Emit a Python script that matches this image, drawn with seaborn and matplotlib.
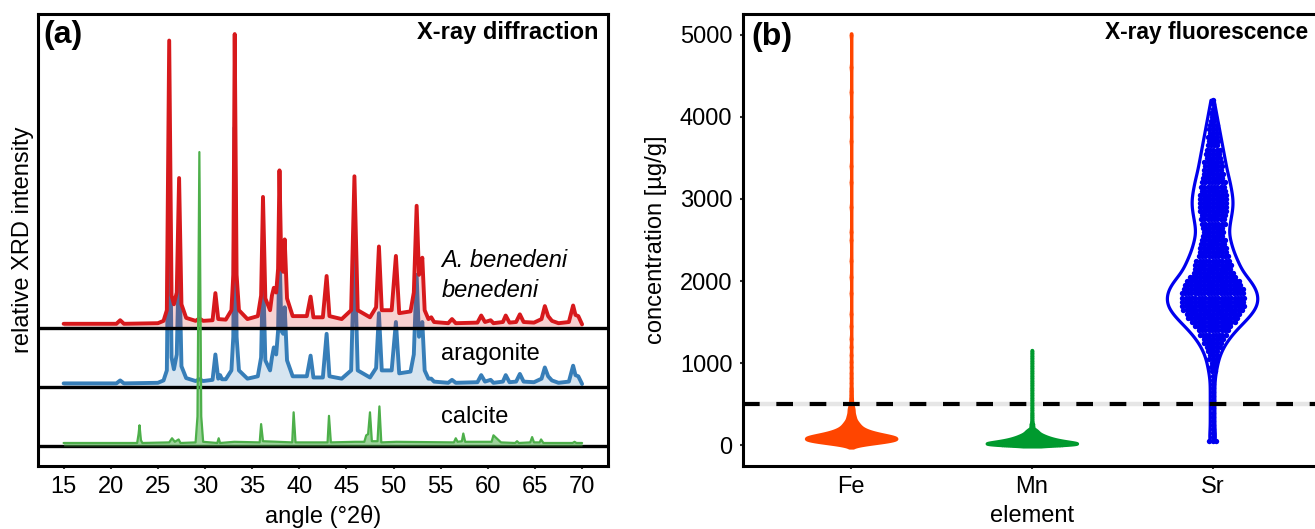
import numpy as np
import pandas as pd
import matplotlib
matplotlib.use("Agg")
import matplotlib.pyplot as plt
import seaborn as sns

# ---------------- panel (a): XRD patterns (angle in deg 2theta, relative intensity) ----------------
sample_angle = [15.0, 20.6, 21.0, 21.4, 25.0, 25.6, 25.95, 26.2, 26.45, 26.7, 27.0, 27.25, 27.5, 28.0, 29.0,
                29.4, 29.8, 30.8, 31.1, 31.4, 32.2, 32.8, 33.0, 33.15, 33.35, 33.6, 34.5, 35.6, 35.95, 36.15,
                36.4, 36.9, 37.1, 37.3, 37.55, 37.75, 37.9, 38.1, 38.3, 38.45, 38.7, 39.3, 40.8, 41.2, 41.5,
                42.5, 42.9, 43.2, 44.5, 45.5, 45.85, 46.2, 47.5, 48.15, 48.45, 48.75, 49.8, 50.25, 50.6, 51.8,
                52.15, 52.45, 52.7, 52.85, 53.05, 53.3, 53.7, 54.0, 54.3, 55.8, 56.2, 56.6, 58.9, 59.3, 59.7,
                60.3, 60.6, 61.6, 61.9, 62.3, 63.0, 63.4, 63.8, 64.9, 65.7, 66.05, 66.4, 66.8, 67.5, 68.6,
                69.05, 69.3, 69.6, 70.0]
sample_int = [0.07, 0.07, 0.13, 0.07, 0.08, 0.12, 0.30, 4.87, 0.55, 0.40, 0.60, 2.54, 0.40, 0.17, 0.12,
              0.16, 0.12, 0.13, 0.59, 0.15, 0.14, 0.30, 0.90, 4.98, 0.90, 0.30, 0.15, 0.20, 0.55, 2.22,
              0.50, 0.30, 0.55, 0.68, 0.60, 1.00, 2.67, 1.00, 0.95, 1.50, 0.50, 0.20, 0.20, 0.53, 0.18,
              0.18, 0.88, 0.20, 0.15, 0.30, 2.57, 0.30, 0.18, 0.35, 1.38, 0.30, 0.30, 1.22, 0.25, 0.28,
              0.60, 2.07, 0.90, 0.95, 1.19, 0.30, 0.15, 0.18, 0.10, 0.08, 0.15, 0.08, 0.09, 0.21, 0.10,
              0.13, 0.08, 0.10, 0.21, 0.09, 0.10, 0.23, 0.10, 0.09, 0.15, 0.37, 0.20, 0.12, 0.08, 0.10,
              0.38, 0.22, 0.20, 0.06]

aragonite_angle = [15.0, 20.6, 21.0, 21.4, 25.0, 25.6, 25.95, 26.2, 26.45, 26.7, 27.0, 27.25, 27.5, 28.0, 29.0,
                   29.4, 29.8, 30.8, 31.1, 31.4, 31.6, 31.8, 32.2, 32.8, 33.0, 33.15, 33.35, 33.6, 34.5, 35.6,
                   35.95, 36.15, 36.4, 36.9, 37.1, 37.3, 37.55, 37.75, 37.9, 38.1, 38.3, 38.45, 38.7, 39.3,
                   40.8, 41.2, 41.5, 42.5, 42.9, 43.2, 44.5, 45.5, 45.85, 46.2, 47.5, 48.15, 48.45, 48.75,
                   49.8, 50.25, 50.6, 51.8, 52.15, 52.45, 52.7, 52.85, 53.05, 53.3, 53.7, 54.0, 54.3, 55.8,
                   56.2, 56.6, 58.9, 59.3, 59.7, 60.3, 60.6, 61.6, 61.9, 62.3, 63.0, 63.4, 63.8, 64.9, 65.7,
                   66.05, 66.4, 66.8, 67.5, 68.6, 69.05, 69.3, 69.6, 70.0]
aragonite_int = [0.06, 0.06, 0.11, 0.06, 0.07, 0.11, 0.28, 4.20, 0.50, 0.30, 0.55, 2.30, 0.35, 0.15, 0.10,
                 0.13, 0.10, 0.12, 0.55, 0.14, 0.20, 0.13, 0.13, 0.28, 0.85, 4.40, 0.85, 0.28, 0.14, 0.18,
                 0.50, 2.00, 0.45, 0.28, 0.50, 0.67, 0.55, 0.95, 2.40, 0.95, 0.90, 1.35, 0.45, 0.18,
                 0.18, 0.53, 0.16, 0.16, 0.90, 0.18, 0.14, 0.28, 2.30, 0.28, 0.16, 0.32, 1.25, 0.28,
                 0.28, 1.10, 0.23, 0.26, 0.55, 1.90, 0.85, 0.90, 1.10, 0.28, 0.14, 0.14, 0.09, 0.07,
                 0.12, 0.07, 0.08, 0.20, 0.09, 0.12, 0.07, 0.09, 0.20, 0.08, 0.09, 0.22, 0.09, 0.08, 0.14,
                 0.33, 0.18, 0.11, 0.07, 0.09, 0.36, 0.20, 0.18, 0.05]

calcite_angle = [15.0, 22.8, 22.95, 23.05, 23.2, 23.35, 26.2, 26.5, 26.8, 27.2, 27.4, 29.0, 29.2, 29.4, 29.6,
                 29.8, 31.3, 31.45, 31.6, 33.1, 35.8, 35.95, 36.15, 39.25, 39.4, 39.6, 43.0, 43.15, 43.35,
                 45.9, 46.9, 47.1, 47.3, 47.5, 47.7, 48.3, 48.5, 48.7, 50.3, 56.4, 56.6, 56.8, 57.25, 57.4,
                 57.6, 60.4, 60.6, 61.0, 61.4, 62.9, 63.1, 63.3, 64.5, 64.7, 64.9, 65.5, 65.65, 65.9, 69.0,
                 69.2, 69.4, 70.0]
calcite_int = [0.05, 0.05, 0.20, 0.35, 0.10, 0.05, 0.06, 0.13, 0.07, 0.11, 0.05, 0.06, 0.50, 4.98, 0.50,
               0.07, 0.05, 0.13, 0.05, 0.07, 0.06, 0.37, 0.08, 0.06, 0.57, 0.06, 0.06, 0.51, 0.06,
               0.07, 0.07, 0.18, 0.20, 0.57, 0.08, 0.08, 0.67, 0.06, 0.07, 0.06, 0.13, 0.07, 0.08, 0.21,
               0.07, 0.07, 0.18, 0.12, 0.06, 0.05, 0.08, 0.05, 0.06, 0.15, 0.06, 0.06, 0.11, 0.05, 0.05,
               0.07, 0.05, 0.05]

xrd_ticks = [15, 20, 25, 30, 35, 40, 45, 50, 55, 60, 65, 70]

# ---------------- panel (b): XRF concentrations (value in ug/g, number of observations) ----------------
elements = ["Fe", "Mn", "Sr"]
fe_values = [0, 20, 40, 60, 80, 100, 120, 140, 160, 180, 200, 220, 240, 260, 280, 300, 320, 340, 360, 380,
             400, 420, 440, 460, 480, 500, 520, 550, 580, 620, 660, 700, 760, 820, 880, 950, 1020, 1100,
             1200, 1300, 1450, 1600, 1850, 2050, 2250, 2500, 2600, 2900, 3200, 3400, 3700, 4000, 4300,
             4600, 4990]
fe_counts = [2, 14, 26, 36, 40, 38, 30, 22, 17, 13, 10, 8, 7, 6, 5, 4, 3, 3, 3, 2,
             2, 2, 2, 2, 1, 1, 1, 1, 1, 1, 1, 1, 1, 1, 1, 1, 1, 1,
             1, 1, 1, 1, 1, 1, 1, 1, 1, 1, 1, 1, 1, 1, 1,
             1, 1]
mn_values = [0, 10, 20, 30, 40, 50, 60, 70, 80, 90, 100, 110, 120, 130, 140, 150, 160, 170, 180, 190, 200,
             220, 240, 260, 280, 300, 325, 350, 375, 400, 430, 460, 490, 520, 550, 580, 610, 640, 670, 700,
             730, 760, 790, 820, 850, 880, 910, 940, 970, 1000, 1030, 1060, 1090, 1120, 1150]
mn_counts = [22, 34, 40, 36, 32, 27, 23, 20, 17, 15, 13, 11, 10, 8, 7, 6, 5, 5, 4, 3, 3,
             2, 2, 2, 1, 1, 1, 1, 1, 1, 1, 1, 1, 1, 1, 1, 1, 1, 1, 1,
             1, 1, 1, 1, 1, 1, 1, 1, 1, 1, 1, 1, 1, 1, 1]
sr_values = [50, 100, 150, 200, 250, 300, 350, 400, 450, 500, 550, 600, 650, 700, 750, 800, 850, 900, 950,
             1000, 1050, 1100, 1150, 1200, 1250, 1300, 1350, 1400, 1450, 1500, 1550, 1600, 1650, 1700,
             1750, 1800, 1850, 1900, 1950, 2000, 2050, 2100, 2150, 2200, 2250, 2300, 2350, 2400, 2450,
             2500, 2550, 2600, 2650, 2700, 2750, 2800, 2850, 2900, 2950, 3000, 3050, 3100, 3150, 3200,
             3250, 3300, 3350, 3400, 3450, 3500, 3550, 3600, 3650, 3700, 3750, 3800, 3850, 3900, 3950,
             4000, 4050, 4100, 4150, 4200]
sr_counts = [3, 1, 1, 1, 1, 1, 1, 1, 1, 1, 1, 1, 1, 1, 1, 1, 1, 2, 2,
             2, 3, 3, 4, 5, 6, 7, 9, 10, 12, 14, 16, 17, 19, 20,
             20, 20, 20, 19, 18, 17, 15, 13, 12, 12, 11, 10, 9, 9, 8,
             8, 7, 7, 7, 8, 8, 8, 9, 9, 9, 9, 9, 8, 8, 8,
             7, 7, 6, 6, 6, 5, 5, 5, 4, 4, 4, 3, 3, 3, 2,
             2, 2, 1, 1, 1]
detection_limit = 500

# ---------------- styling ----------------
sns.set_theme(style="white")
plt.rcParams["font.family"] = ["Liberation Sans", "DejaVu Sans"]
for key in ["text.color", "axes.labelcolor", "xtick.labelcolor", "ytick.labelcolor"]:
    plt.rcParams[key] = "black"

RED, BLUE, GREEN = "#D7191C", "#377EB8", "#4DAF4A"
EL_COLORS = {"Fe": "#FF4500", "Mn": "#009A2E", "Sr": "#0000EE"}
FS = 17

W, H = 1315, 529
fig = plt.figure(figsize=(W / 100, H / 100), dpi=100)
ax1 = fig.add_axes([37.7 / W, 1 - 466 / H, (608 - 37.7) / W, 452 / H])
ax2 = fig.add_axes([742.7 / W, 1 - 466 / H, (1321 - 742.7) / W, 452 / H])

# ---------------- panel (a) ----------------
series = [(aragonite_angle, aragonite_int, BLUE, 1.0, 2, 2.8),
          (sample_angle, sample_int, RED, 2.0, 4, 2.8),
          (calcite_angle, calcite_int, GREEN, 0.0, 7, 1.6)]
for ang, inten, col, off, z, lw in series:
    ang = np.asarray(ang)
    yy = np.asarray(inten) + off
    ax1.fill_between(ang, off, yy, color=col, alpha=0.2 if col != GREEN else 0.55, lw=0, zorder=z - 0.5)
    sns.lineplot(x=ang, y=yy, color=col, lw=lw, estimator=None, sort=False, ax=ax1, zorder=z)
for off in [0, 1, 2]:
    ax1.axhline(off, color="black", lw=2.4, zorder=5)

ax1.set_xlim(12.25, 72.75)
ax1.set_ylim(-0.34, 7.32)
ax1.set_xticks(xrd_ticks)
ax1.set_yticks([])
ax1.set_xlabel("angle (°2θ)", fontsize=FS, labelpad=5)
ax1.set_ylabel("relative XRD intensity", fontsize=FS, labelpad=3)
ax1.text(55.07, 3.14, "A. benedeni", style="italic", fontsize=FS, va="center", ha="left")
ax1.text(55.07, 2.63, "benedeni", style="italic", fontsize=FS, va="center", ha="left")
ax1.text(55.07, 1.56, "aragonite", fontsize=FS, va="center", ha="left")
ax1.text(55.07, 0.49, "calcite", fontsize=FS, va="center", ha="left")
ax1.text(0.0095, 0.9535, "(a)", transform=ax1.transAxes, fontsize=23, fontweight="bold", va="center", ha="left")
ax1.text(0.9825, 0.958, "X-ray diffraction", transform=ax1.transAxes, fontsize=FS, fontweight="bold",
         va="center", ha="right")

# ---------------- panel (b) ----------------
ax2.axhline(detection_limit, color="#E6E6E6", lw=3.2, zorder=0.5)
data_b = {"Fe": (fe_values, fe_counts, 25.0, 0.010, True, 1.0, 6),
          "Mn": (mn_values, mn_counts, 12.0, 0.010, True, 1.0, 6),
          "Sr": (sr_values, sr_counts, 90.0, 0.018, False, 0.0, 15)}
for i, el in enumerate(elements):
    vals, cnts, bw_target, spacing, filled, cut, msize = data_b[el]
    col = EL_COLORS[el]
    obs = np.repeat(np.asarray(vals, float), cnts)
    df = pd.DataFrame({"element": el, "value": obs})
    adj = bw_target / (obs.std(ddof=1) * len(obs) ** -0.2)
    sns.violinplot(data=df, x="element", y="value", order=elements, color=col, fill=filled,
                   linecolor=col, linewidth=2.3, inner=None, cut=cut, width=0.5, density_norm="width",
                   bw_adjust=adj, saturation=1, gridsize=800, ax=ax2)
    # observation points, laid out in rows centred on the category (alternate rows offset)
    xs, ys = [], []
    for r, (v, k) in enumerate(zip(vals, cnts)):
        shift = 0.25 * (r % 2) if k > 1 else 0.0
        for j in range(k):
            xs.append(i + (j - (k - 1) / 2 + shift) * spacing)
            ys.append(v)
    sns.scatterplot(x=xs, y=ys, color=col, s=msize, linewidth=0, ax=ax2, legend=False, zorder=3)

ax2.axhline(detection_limit, color="black", lw=3, dashes=(4, 4), zorder=6)
ax2.set_xlim(-0.6, 2.6)
ax2.set_ylim(-250, 5250)
ax2.set_xticks(range(len(elements)))
ax2.set_xticklabels(elements)
ax2.set_yticks([0, 1000, 2000, 3000, 4000, 5000])
ax2.set_xlabel("element", fontsize=FS, labelpad=5)
ax2.set_ylabel("concentration [µg/g]", fontsize=FS, labelpad=9)
ax2.text(0.0156, 0.949, "(b)", transform=ax2.transAxes, fontsize=23, fontweight="bold", va="center", ha="left")
# panel title kept fully inside the figure (reference clips it at the right edge)
ax2.text(0.626, 0.958, "X-ray fluorescence", transform=ax2.transAxes, fontsize=16.4, fontweight="bold",
         va="center", ha="left")

for ax in (ax1, ax2):
    for sp in ax.spines.values():
        sp.set_visible(True)
        sp.set_color("black")
        sp.set_linewidth(2.2)
    ax.tick_params(axis="both", which="both", direction="out", length=2.5, width=1.5, color="#333333",
                   labelsize=FS, labelcolor="black", pad=5, bottom=True, left=True)
    ax.grid(False)
ax1.tick_params(axis="y", left=False)

fig.savefig("out.png", dpi=100)
